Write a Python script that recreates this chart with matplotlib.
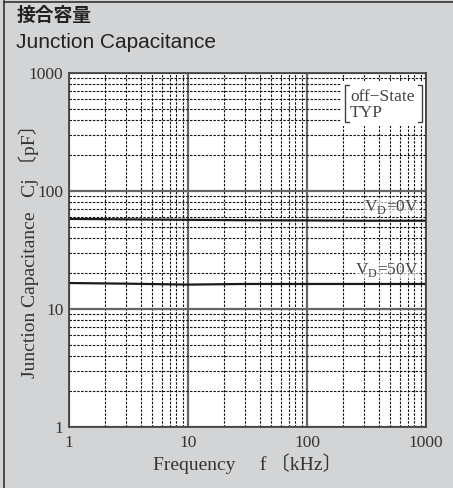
import matplotlib
matplotlib.use("Agg")
import matplotlib.pyplot as plt
from matplotlib.lines import Line2D
from matplotlib.patches import Rectangle
from matplotlib.ticker import LogLocator, NullFormatter, FixedLocator, FixedFormatter

plt.rcParams['mathtext.fontset'] = 'custom'
plt.rcParams['mathtext.rm'] = 'Liberation Serif'

# data
freq_khz = [1, 3, 10, 30, 100, 300, 1000]
cj_vd0 = [58, 57.5, 57, 56.5, 56.3, 56, 56]
cj_vd50 = [16.6, 16.4, 16.1, 16.3, 16.3, 16.3, 16.3]
xticks = [1, 10, 100, 1000]
xticklabels = ["1", "10", "100", "1000"]
yticks = [1, 10, 100, 1000]
yticklabels = ["1", "10", "100", "1000"]

W, H = 453, 488
fig = plt.figure(figsize=(W / 100, H / 100), dpi=100)
fig.patch.set_facecolor('#d3d4d6')

# outer border (left/top)
fig.add_artist(Line2D([4 / W, 4 / W], [0, 1 - 1 / H], transform=fig.transFigure, color='#333333', lw=1.2))
fig.add_artist(Line2D([4 / W, 1], [1 - 1.5 / H, 1 - 1.5 / H], transform=fig.transFigure, color='#333333', lw=1.2))

serif = ['Liberation Serif', 'Noto Sans CJK JP']

fig.text(17 / W, 1 - 15 / H, "接合容量", family=['Noto Sans CJK JP'], fontweight='bold',
         fontsize=13.5, va='center', ha='left', color='#222222')
fig.text(16 / W, 1 - 43 / H, "Junction Capacitance", family=['Liberation Sans'],
         fontsize=15, va='center', ha='left', color='#222222')

AX_L, AX_R, AX_T, AX_B = 69, 426, 73, 427
ax = fig.add_axes([AX_L / W, 1 - AX_B / H, (AX_R - AX_L) / W, (AX_B - AX_T) / H])
ax.set_facecolor('white')
ax.set_xscale('log')
ax.set_yscale('log')
ax.set_xlim(1, 1000)
ax.set_ylim(1, 1000)

ax.xaxis.set_major_locator(FixedLocator(xticks))
ax.xaxis.set_major_formatter(FixedFormatter(xticklabels))
ax.yaxis.set_major_locator(FixedLocator(yticks))
ax.yaxis.set_major_formatter(FixedFormatter(yticklabels))
ax.xaxis.set_minor_locator(LogLocator(base=10, subs=range(2, 10), numticks=20))
ax.yaxis.set_minor_locator(LogLocator(base=10, subs=range(2, 10), numticks=20))
ax.xaxis.set_minor_formatter(NullFormatter())
ax.yaxis.set_minor_formatter(NullFormatter())

ax.grid(which='minor', color='#111111', lw=0.8, linestyle=(0, (2.2, 1.3)))
ax.grid(which='major', color='#666666', lw=1.6, linestyle='-')
ax.set_axisbelow(True)
ax.tick_params(axis='x', which='both', length=0, pad=6, labelsize=12.5, labelcolor='#333333')
ax.tick_params(axis='y', which='both', length=0, pad=4, labelsize=12.5, labelcolor='#333333')
for lab in ax.get_xticklabels() + ax.get_yticklabels():
    lab.set_family(serif)

for s in ax.spines.values():
    s.set_color('#444444')
    s.set_linewidth(1.3)
    s.set_zorder(5)

ax.plot(freq_khz, cj_vd0, color='#1a1a1a', lw=1.6, zorder=3)
ax.plot(freq_khz, cj_vd50, color='#1a1a1a', lw=1.6, zorder=3)


def fx(px):
    return (px - AX_L) / (AX_R - AX_L)


def fy(py):
    return (AX_B - py) / (AX_B - AX_T)


ax.text(fx(419), fy(207), r"V$_{\mathrm{D}}$=0V", transform=ax.transAxes, ha='right', va='center',
        family=serif, fontsize=12.5, color='#444444', zorder=4,
        bbox=dict(facecolor='white', edgecolor='none', pad=0.3, alpha=0.6))
ax.text(fx(419), fy(270), r"V$_{\mathrm{D}}$=50V", transform=ax.transAxes, ha='right', va='center',
        family=serif, fontsize=12.5, color='#444444', zorder=4,
        bbox=dict(facecolor='white', edgecolor='none', pad=0.3, alpha=0.6))

# annotation box with brackets
ax.add_patch(Rectangle((fx(341), fy(126)), fx(425) - fx(341), fy(81) - fy(126),
                       transform=ax.transAxes, facecolor='white', edgecolor='none', zorder=3))
bx0, bx1 = fx(345), fx(422)
by0, by1 = fy(122), fy(85)
tk = 0.012
for xs, ys in [([bx0 + tk, bx0, bx0, bx0 + tk], [by1, by1, by0, by0]),
               ([bx1 - tk, bx1, bx1, bx1 - tk], [by1, by1, by0, by0])]:
    ax.add_line(Line2D(xs, ys, transform=ax.transAxes, color='#444444', lw=1.0, zorder=4))
ax.text(fx(350), fy(97), "off\u2212State", transform=ax.transAxes, ha='left',
        va='center', family=serif, fontsize=12.5, color='#444444', zorder=4)
ax.text(fx(350), fy(113), "TYP", transform=ax.transAxes, ha='left',
        va='center', family=serif, fontsize=12.5, color='#444444', zorder=4)

ax.set_xlabel("Frequency\u3000 f\u2009〔kHz〕", family=serif, fontsize=14, color='#333333', labelpad=8)
ax.set_ylabel("Junction Capacitance\u2002 Cj\u2009〔pF〕", family=serif, fontsize=14, color='#333333', labelpad=10)
ax.yaxis.set_label_coords(-(AX_L - 39) / (AX_R - AX_L), 0.51)
ax.xaxis.set_label_coords(0.5, -(453 - AX_B) / (AX_B - AX_T))

fig.savefig("out.png", dpi=100, facecolor=fig.get_facecolor())
